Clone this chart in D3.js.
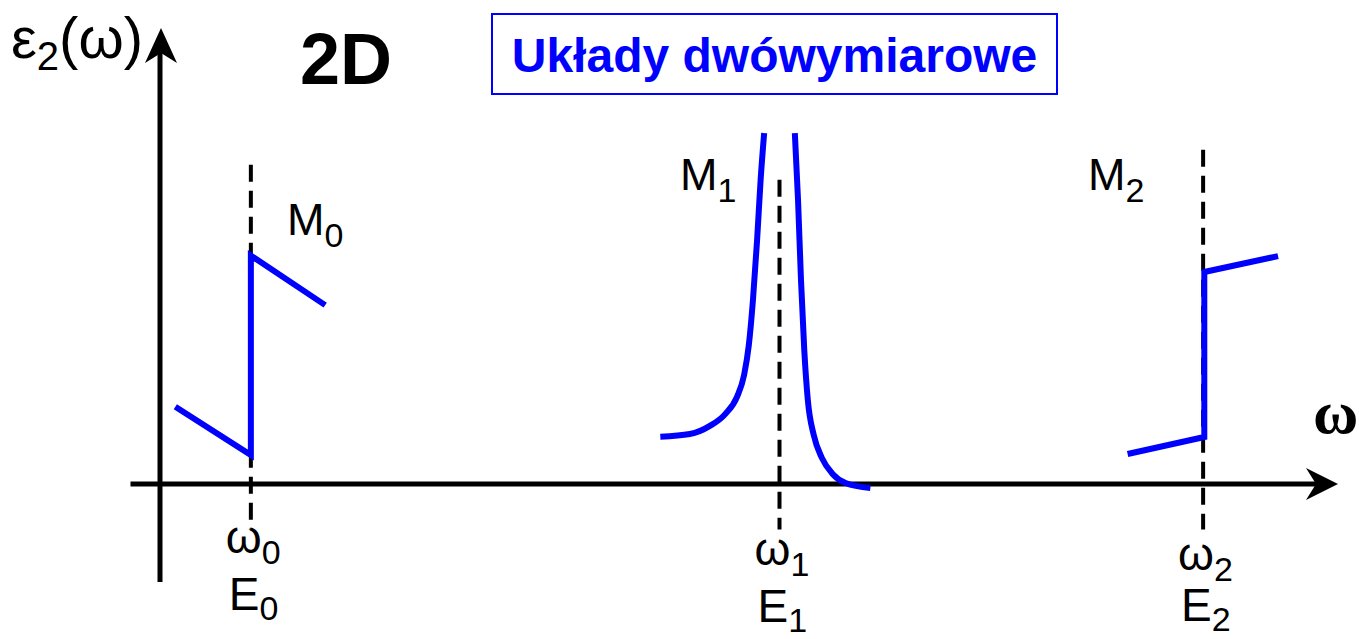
<!DOCTYPE html>
<html>
<head>
<meta charset="utf-8">
<script src="https://cdn.jsdelivr.net/npm/d3@7"></script>
<style>
  body { margin: 0; background: #fff; }
  text { font-family: "Liberation Sans", Arial, Helvetica, sans-serif; fill: #000; }
</style>
</head>
<body>
<script>
// critical points, omega and dashed-line top, in % of the axes
const critNames = ['0', '1', '2'];
const critOmega = [7.7, 52.5, 88.4];
const critDashTop = [70.3, 67.0, 73.6];
const modeNames = ['M0', 'M1', 'M2'];

// M0 branch
const m0Omega = [1.3, 7.7, 7.7, 14.0];
const m0Eps = [17.0, 6.4, 50.3, 39.4];

// M1 branch (two halves of the log peak)
const m1LeftOmega = [42.4, 44.9, 46.6, 47.9, 48.9, 49.5, 49.9, 50.25, 50.6, 50.9, 51.2];
const m1LeftEps = [10.4, 11.0, 12.8, 15.4, 19.2, 24.0, 30.6, 40.5, 53.7, 67.0, 77.3];
const m1RightOmega = [53.8, 54.07, 54.32, 54.6, 54.9, 55.4, 56.1, 57.0, 58.1, 60.2];
const m1RightEps = [77.3, 62.6, 45.0, 29.5, 18.5, 10.8, 5.7, 2.2, 0.2, -0.9];

// M2 branch
const m2Omega = [82.0, 88.5, 88.5, 94.75];
const m2Eps = [6.6, 10.35, 46.7, 50.2];

// label layout (px)
const critLabelBase = [[553, 610], [565, 622], [570, 621]];
const modeLabelPos = [[287, 235], [680, 190], [1088, 190]];

const blue = '#0000ff';
const w = 1359, h = 639;

const x = d3.scaleLinear().domain([0, 100]).range([160, 1340]);
const y = d3.scaleLinear().domain([0, 100]).range([484, 30]);

const svg = d3.select('body')
  .append('svg')
  .attr('width', w)
  .attr('height', h);

const zip = (a, b) => a.map((v, i) => [v, b[i]]);

const line = d3.line().x(d => x(d[0])).y(d => y(d[1]));
const smooth = d3.line().x(d => x(d[0])).y(d => y(d[1])).curve(d3.curveMonotoneX);

// dashed verticals at critical points
svg.selectAll('.crit')
  .data(critOmega)
  .enter()
  .append('line')
  .attr('class', 'crit')
  .attr('x1', d => x(d))
  .attr('x2', d => x(d))
  .attr('y1', (d, i) => y(critDashTop[i]))
  .attr('y2', y(-10))
  .attr('stroke', '#000')
  .attr('stroke-width', 4)
  .attr('stroke-dasharray', '17 9');

// axes
svg.append('line')
  .attr('x1', x(-2.5)).attr('x2', x(98))
  .attr('y1', y(0)).attr('y2', y(0))
  .attr('stroke', '#000').attr('stroke-width', 5);

svg.append('line')
  .attr('x1', x(0)).attr('x2', x(0))
  .attr('y1', y(-21.6)).attr('y2', y(95))
  .attr('stroke', '#000').attr('stroke-width', 5);

// arrow heads
const tipX = [x(100) - 2, y(0)];
svg.append('path')
  .attr('d', `M${tipX[0]},${tipX[1]} L${tipX[0] - 32},${tipX[1] - 16} L${tipX[0] - 22},${tipX[1]} L${tipX[0] - 32},${tipX[1] + 16} Z`)
  .attr('fill', '#000');

const tipY = [x(0) + 1, y(100) - 2];
svg.append('path')
  .attr('d', `M${tipY[0]},${tipY[1]} L${tipY[0] - 16},${tipY[1] + 35} L${tipY[0]},${tipY[1] + 25} L${tipY[0] + 16},${tipY[1] + 35} Z`)
  .attr('fill', '#000');

// spectrum branches
const branches = [
  { pts: zip(m0Omega, m0Eps), gen: line },
  { pts: zip(m1LeftOmega, m1LeftEps), gen: smooth },
  { pts: zip(m1RightOmega, m1RightEps), gen: smooth },
  { pts: zip(m2Omega, m2Eps), gen: line }
];

svg.selectAll('.branch')
  .data(branches)
  .enter()
  .append('path')
  .attr('class', 'branch')
  .attr('d', d => d.gen(d.pts))
  .attr('fill', 'none')
  .attr('stroke', blue)
  .attr('stroke-width', 6)
  .attr('stroke-linejoin', 'miter');

// text with a subscript
const subText = (g, px, py, main, sub, size, subSize, dy) => {
  const t = g.append('text')
    .attr('x', px)
    .attr('y', py)
    .style('font-size', size + 'px');
  t.append('tspan').text(main);
  t.append('tspan').text(sub)
    .attr('dy', dy)
    .style('font-size', subSize + 'px');
  return t;
};

// omega / E labels under the axis
critNames.forEach((n, i) => {
  subText(svg, x(critOmega[i]) - 25, critLabelBase[i][0], 'ω', n, 46, 34, 11);
  subText(svg, x(critOmega[i]) - 22, critLabelBase[i][1], 'E', n, 46, 34, 10);
});

// critical point names
modeNames.forEach((n, i) => {
  subText(svg, modeLabelPos[i][0], modeLabelPos[i][1], n[0], n[1], 45, 34, 12);
});

// axis titles
const yTitle = svg.append('text')
  .attr('x', 11)
  .attr('y', 58)
  .style('font-size', '58px');
yTitle.append('tspan').text('ε');
yTitle.append('tspan').text('2').attr('dy', 12).style('font-size', '40px');
yTitle.append('tspan').text('(ω)').attr('dy', -12);

svg.append('text')
  .attr('x', 1313)
  .attr('y', 433)
  .style('font-family', '"Liberation Serif", "Times New Roman", serif')
  .style('font-weight', 'bold')
  .style('font-size', '62px')
  .text('ω');

svg.append('text')
  .attr('x', 300)
  .attr('y', 84)
  .style('font-weight', 'bold')
  .style('font-size', '72px')
  .text('2D');

// title box
svg.append('rect')
  .attr('x', 492).attr('y', 14)
  .attr('width', 565).attr('height', 80)
  .attr('fill', 'none')
  .attr('stroke', blue)
  .attr('stroke-width', 2);

svg.append('text')
  .attr('x', 774.5)
  .attr('y', 72)
  .attr('text-anchor', 'middle')
  .style('font-weight', 'bold')
  .style('font-size', '48px')
  .style('fill', blue)
  .text('Układy dwówymiarowe');
</script>
</body>
</html>
